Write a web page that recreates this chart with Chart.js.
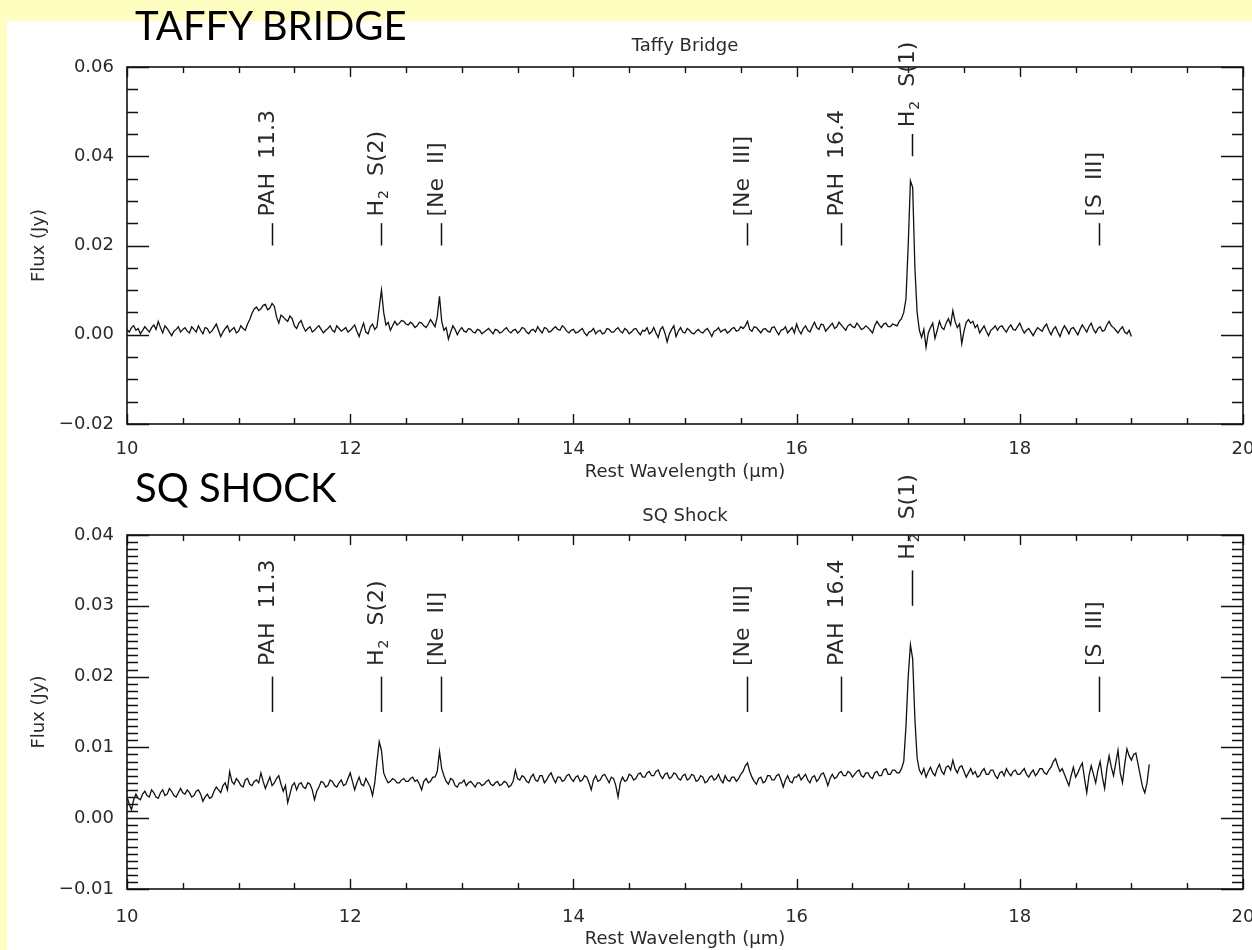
<!DOCTYPE html>
<html>
<head>
<meta charset="utf-8">
<title>Taffy Bridge / SQ Shock spectra</title>
<script src="https://cdn.jsdelivr.net/npm/chart.js@4.4.0/dist/chart.umd.min.js"></script>
<style>
  html, body { margin: 0; padding: 0; }
  body { width: 1252px; height: 950px; background: #fefec0; position: relative; overflow: hidden; }
  #panel { position: absolute; left: 7px; top: 21px; right: 0; bottom: 0; background: #fff; }
  canvas { position: absolute; left: 0; top: 0; }
  .tag { position: absolute; left: 135px; font-family: Lato, sans-serif; font-size: 40px; line-height: 40px; color: #000; white-space: nowrap; }
</style>
</head>
<body>
<div id="panel"></div>
<canvas id="taffyChart" width="1252" height="950"></canvas>
<canvas id="sqChart" width="1252" height="950"></canvas>
<div class="tag" style="top:5px">TAFFY BRIDGE</div>
<div class="tag" style="top:467px">SQ SHOCK</div>

<script>
// wavelength samples (µm), shared by both spectra
const wavelengths = [
  10.00, 10.02, 10.04, 10.06, 10.08, 10.10, 10.12, 10.14, 10.16, 10.18, 10.20, 10.22, 10.24, 10.26, 10.28, 10.30, 10.32, 10.34, 10.36, 10.38, 10.40, 10.42, 10.44, 10.46, 10.48, 10.50, 10.52, 10.54, 10.56, 10.58, 10.60, 10.62, 10.64, 10.66, 10.68, 10.70, 10.72, 10.74, 10.76, 10.78, 10.80, 10.82, 10.84, 10.86, 10.88, 10.90, 10.92, 10.94, 10.96, 10.98,
  11.00, 11.02, 11.04, 11.06, 11.08, 11.10, 11.12, 11.14, 11.16, 11.18, 11.20, 11.22, 11.24, 11.26, 11.28, 11.30, 11.32, 11.34, 11.36, 11.38, 11.40, 11.42, 11.44, 11.46, 11.48, 11.50, 11.52, 11.54, 11.56, 11.58, 11.60, 11.62, 11.64, 11.66, 11.68, 11.70, 11.72, 11.74, 11.76, 11.78, 11.80, 11.82, 11.84, 11.86, 11.88, 11.90, 11.92, 11.94, 11.96, 11.98,
  12.00, 12.02, 12.04, 12.06, 12.08, 12.10, 12.12, 12.14, 12.16, 12.18, 12.20, 12.22, 12.24, 12.26, 12.28, 12.30, 12.32, 12.34, 12.36, 12.38, 12.40, 12.42, 12.44, 12.46, 12.48, 12.50, 12.52, 12.54, 12.56, 12.58, 12.60, 12.62, 12.64, 12.66, 12.68, 12.70, 12.72, 12.74, 12.76, 12.78, 12.80, 12.82, 12.84, 12.86, 12.88, 12.90, 12.92, 12.94, 12.96, 12.98,
  13.00, 13.02, 13.04, 13.06, 13.08, 13.10, 13.12, 13.14, 13.16, 13.18, 13.20, 13.22, 13.24, 13.26, 13.28, 13.30, 13.32, 13.34, 13.36, 13.38, 13.40, 13.42, 13.44, 13.46, 13.48, 13.50, 13.52, 13.54, 13.56, 13.58, 13.60, 13.62, 13.64, 13.66, 13.68, 13.70, 13.72, 13.74, 13.76, 13.78, 13.80, 13.82, 13.84, 13.86, 13.88, 13.90, 13.92, 13.94, 13.96, 13.98,
  14.00, 14.02, 14.04, 14.06, 14.08, 14.10, 14.12, 14.14, 14.16, 14.18, 14.20, 14.22, 14.24, 14.26, 14.28, 14.30, 14.32, 14.34, 14.36, 14.38, 14.40, 14.42, 14.44, 14.46, 14.48, 14.50, 14.52, 14.54, 14.56, 14.58, 14.60, 14.62, 14.64, 14.66, 14.68, 14.70, 14.72, 14.74, 14.76, 14.78, 14.80, 14.82, 14.84, 14.86, 14.88, 14.90, 14.92, 14.94, 14.96, 14.98,
  15.00, 15.02, 15.04, 15.06, 15.08, 15.10, 15.12, 15.14, 15.16, 15.18, 15.20, 15.22, 15.24, 15.26, 15.28, 15.30, 15.32, 15.34, 15.36, 15.38, 15.40, 15.42, 15.44, 15.46, 15.48, 15.50, 15.52, 15.54, 15.56, 15.58, 15.60, 15.62, 15.64, 15.66, 15.68, 15.70, 15.72, 15.74, 15.76, 15.78, 15.80, 15.82, 15.84, 15.86, 15.88, 15.90, 15.92, 15.94, 15.96, 15.98,
  16.00, 16.02, 16.04, 16.06, 16.08, 16.10, 16.12, 16.14, 16.16, 16.18, 16.20, 16.22, 16.24, 16.26, 16.28, 16.30, 16.32, 16.34, 16.36, 16.38, 16.40, 16.42, 16.44, 16.46, 16.48, 16.50, 16.52, 16.54, 16.56, 16.58, 16.60, 16.62, 16.64, 16.66, 16.68, 16.70, 16.72, 16.74, 16.76, 16.78, 16.80, 16.82, 16.84, 16.86, 16.88, 16.90, 16.92, 16.94, 16.96, 16.98,
  17.00, 17.02, 17.04, 17.06, 17.08, 17.10, 17.12, 17.14, 17.16, 17.18, 17.20, 17.22, 17.24, 17.26, 17.28, 17.30, 17.32, 17.34, 17.36, 17.38, 17.40, 17.42, 17.44, 17.46, 17.48, 17.50, 17.52, 17.54, 17.56, 17.58, 17.60, 17.62, 17.64, 17.66, 17.68, 17.70, 17.72, 17.74, 17.76, 17.78, 17.80, 17.82, 17.84, 17.86, 17.88, 17.90, 17.92, 17.94, 17.96, 17.98,
  18.00, 18.02, 18.04, 18.06, 18.08, 18.10, 18.12, 18.14, 18.16, 18.18, 18.20, 18.22, 18.24, 18.26, 18.28, 18.30, 18.32, 18.34, 18.36, 18.38, 18.40, 18.42, 18.44, 18.46, 18.48, 18.50, 18.52, 18.54, 18.56, 18.58, 18.60, 18.62, 18.64, 18.66, 18.68, 18.70, 18.72, 18.74, 18.76, 18.78, 18.80, 18.82, 18.84, 18.86, 18.88, 18.90, 18.92, 18.94, 18.96, 18.98,
  19.00, 19.02, 19.04, 19.06, 19.08, 19.10, 19.12, 19.14, 19.16
];

// Taffy Bridge flux (Jy), 10.00 - 19.00 µm
const taffyFlux = [
  0.0012, 0.0006, 0.0016, 0.0020, 0.0010, 0.0014, 0.0002, 0.0010, 0.0018, 0.0012, 0.0006, 0.0016, 0.0022, 0.0012, 0.0030, 0.0016, 0.0004, 0.0020, 0.0014, 0.0006, -0.0002, 0.0008, 0.0012, 0.0018, 0.0006, 0.0012, 0.0016, 0.0008, 0.0004, 0.0018, 0.0012, 0.0006, 0.0020, 0.0010, 0.0002, 0.0016, 0.0014, 0.0004, 0.0008, 0.0016, 0.0024, 0.0010, -0.0004, 0.0006, 0.0014, 0.0020, 0.0006, 0.0012, 0.0016, 0.0004,
  0.0008, 0.0020, 0.0014, 0.0010, 0.0024, 0.0034, 0.0048, 0.0058, 0.0062, 0.0054, 0.0058, 0.0066, 0.0068, 0.0056, 0.0060, 0.0070, 0.0064, 0.0040, 0.0026, 0.0044, 0.0040, 0.0034, 0.0030, 0.0042, 0.0036, 0.0020, 0.0014, 0.0026, 0.0032, 0.0018, 0.0008, 0.0014, 0.0018, 0.0006, 0.0010, 0.0016, 0.0020, 0.0012, 0.0004, 0.0010, 0.0014, 0.0020, 0.0010, 0.0006, 0.0020, 0.0014, 0.0008, 0.0012, 0.0016, 0.0006,
  0.0010, 0.0016, 0.0022, 0.0008, -0.0004, 0.0012, 0.0026, 0.0006, 0.0002, 0.0018, 0.0024, 0.0012, 0.0018, 0.0060, 0.0100, 0.0050, 0.0022, 0.0028, 0.0010, 0.0020, 0.0030, 0.0022, 0.0026, 0.0032, 0.0030, 0.0024, 0.0022, 0.0028, 0.0024, 0.0016, 0.0020, 0.0028, 0.0026, 0.0020, 0.0016, 0.0024, 0.0034, 0.0026, 0.0018, 0.0040, 0.0086, 0.0030, 0.0010, 0.0016, -0.0010, 0.0006, 0.0020, 0.0012, 0.0000, 0.0010,
  0.0016, 0.0008, 0.0006, 0.0014, 0.0012, 0.0006, 0.0004, 0.0012, 0.0010, 0.0002, 0.0006, 0.0010, 0.0014, 0.0008, 0.0002, 0.0012, 0.0010, 0.0004, 0.0006, 0.0012, 0.0016, 0.0008, 0.0004, 0.0010, 0.0012, 0.0004, 0.0008, 0.0016, 0.0014, 0.0006, 0.0002, 0.0010, 0.0012, 0.0006, 0.0018, 0.0010, 0.0004, 0.0016, 0.0014, 0.0006, 0.0008, 0.0014, 0.0018, 0.0012, 0.0010, 0.0020, 0.0016, 0.0008, 0.0004, 0.0010,
  0.0012, 0.0004, 0.0006, 0.0010, 0.0014, 0.0004, -0.0002, 0.0006, 0.0008, 0.0014, 0.0002, 0.0008, 0.0010, 0.0002, 0.0004, 0.0014, 0.0012, 0.0006, 0.0006, 0.0012, 0.0016, 0.0008, 0.0004, 0.0014, 0.0010, 0.0002, 0.0006, 0.0012, 0.0014, 0.0006, 0.0000, 0.0010, 0.0008, 0.0016, 0.0002, 0.0006, 0.0016, 0.0004, -0.0006, 0.0012, 0.0018, 0.0004, -0.0016, 0.0002, 0.0012, 0.0020, -0.0004, 0.0008, 0.0016, 0.0006,
  0.0004, 0.0014, 0.0010, 0.0004, 0.0002, 0.0008, 0.0012, 0.0006, 0.0004, 0.0010, 0.0014, 0.0006, -0.0004, 0.0008, 0.0010, 0.0016, 0.0006, 0.0010, 0.0012, 0.0004, 0.0008, 0.0014, 0.0016, 0.0008, 0.0010, 0.0018, 0.0014, 0.0020, 0.0030, 0.0012, 0.0008, 0.0018, 0.0016, 0.0010, 0.0004, 0.0012, 0.0014, 0.0008, 0.0006, 0.0016, 0.0018, 0.0008, 0.0000, 0.0010, 0.0012, 0.0018, 0.0004, 0.0010, 0.0016, 0.0004,
  0.0024, 0.0010, 0.0002, 0.0014, 0.0020, 0.0010, 0.0006, 0.0018, 0.0028, 0.0016, 0.0012, 0.0024, 0.0022, 0.0008, 0.0014, 0.0020, 0.0026, 0.0014, 0.0018, 0.0028, 0.0022, 0.0016, 0.0010, 0.0020, 0.0024, 0.0018, 0.0016, 0.0026, 0.0020, 0.0012, 0.0014, 0.0020, 0.0016, 0.0010, 0.0004, 0.0020, 0.0030, 0.0022, 0.0016, 0.0024, 0.0026, 0.0018, 0.0018, 0.0024, 0.0022, 0.0020, 0.0030, 0.0036, 0.0050, 0.0080,
  0.0200, 0.0345, 0.0330, 0.0150, 0.0050, 0.0010, -0.0006, 0.0012, -0.0028, 0.0004, 0.0016, 0.0026, -0.0008, 0.0010, 0.0030, 0.0016, 0.0012, 0.0026, 0.0036, 0.0022, 0.0054, 0.0030, 0.0016, 0.0024, -0.0020, 0.0008, 0.0028, 0.0034, 0.0026, 0.0030, 0.0016, 0.0022, 0.0004, 0.0012, 0.0020, 0.0008, -0.0002, 0.0010, 0.0014, 0.0020, 0.0010, 0.0018, 0.0020, 0.0012, 0.0006, 0.0016, 0.0022, 0.0012, 0.0010, 0.0018,
  0.0026, 0.0014, 0.0004, 0.0010, 0.0014, 0.0006, -0.0002, 0.0008, 0.0016, 0.0012, 0.0008, 0.0018, 0.0024, 0.0010, 0.0000, 0.0012, 0.0018, 0.0006, -0.0004, 0.0010, 0.0020, 0.0012, 0.0002, 0.0014, 0.0016, 0.0008, 0.0000, 0.0012, 0.0022, 0.0014, 0.0006, 0.0018, 0.0026, 0.0012, 0.0004, 0.0014, 0.0018, 0.0008, 0.0010, 0.0022, 0.0030, 0.0020, 0.0016, 0.0010, 0.0004, 0.0012, 0.0018, 0.0006, 0.0002, 0.0010,
  -0.0004
];

// SQ Shock flux (Jy), 10.00 - 19.16 µm
const sqFlux = [
  0.0030, 0.0020, 0.0012, 0.0026, 0.0034, 0.0028, 0.0026, 0.0034, 0.0038, 0.0032, 0.0030, 0.0040, 0.0036, 0.0030, 0.0028, 0.0036, 0.0040, 0.0032, 0.0034, 0.0042, 0.0038, 0.0032, 0.0030, 0.0036, 0.0042, 0.0036, 0.0034, 0.0040, 0.0036, 0.0030, 0.0032, 0.0038, 0.0040, 0.0034, 0.0024, 0.0030, 0.0034, 0.0028, 0.0030, 0.0038, 0.0044, 0.0040, 0.0036, 0.0046, 0.0050, 0.0040, 0.0066, 0.0052, 0.0048, 0.0056,
  0.0052, 0.0046, 0.0044, 0.0054, 0.0056, 0.0048, 0.0046, 0.0052, 0.0054, 0.0050, 0.0064, 0.0052, 0.0042, 0.0050, 0.0058, 0.0046, 0.0050, 0.0056, 0.0060, 0.0048, 0.0038, 0.0046, 0.0022, 0.0034, 0.0046, 0.0050, 0.0040, 0.0048, 0.0050, 0.0044, 0.0042, 0.0050, 0.0048, 0.0040, 0.0026, 0.0038, 0.0044, 0.0052, 0.0050, 0.0044, 0.0046, 0.0054, 0.0052, 0.0046, 0.0044, 0.0050, 0.0054, 0.0046, 0.0048, 0.0056,
  0.0064, 0.0052, 0.0040, 0.0050, 0.0058, 0.0048, 0.0046, 0.0056, 0.0050, 0.0044, 0.0032, 0.0050, 0.0080, 0.0108, 0.0096, 0.0064, 0.0056, 0.0050, 0.0052, 0.0056, 0.0054, 0.0050, 0.0050, 0.0054, 0.0056, 0.0052, 0.0052, 0.0056, 0.0058, 0.0052, 0.0054, 0.0048, 0.0040, 0.0052, 0.0056, 0.0050, 0.0052, 0.0058, 0.0058, 0.0066, 0.0094, 0.0070, 0.0060, 0.0052, 0.0048, 0.0056, 0.0054, 0.0046, 0.0044, 0.0050,
  0.0050, 0.0054, 0.0046, 0.0050, 0.0052, 0.0048, 0.0044, 0.0050, 0.0050, 0.0046, 0.0048, 0.0052, 0.0054, 0.0048, 0.0046, 0.0050, 0.0052, 0.0046, 0.0048, 0.0052, 0.0050, 0.0044, 0.0046, 0.0052, 0.0068, 0.0056, 0.0054, 0.0060, 0.0058, 0.0052, 0.0050, 0.0058, 0.0062, 0.0054, 0.0052, 0.0060, 0.0060, 0.0050, 0.0054, 0.0060, 0.0064, 0.0056, 0.0050, 0.0058, 0.0058, 0.0052, 0.0054, 0.0060, 0.0062, 0.0056,
  0.0052, 0.0058, 0.0060, 0.0052, 0.0054, 0.0060, 0.0058, 0.0050, 0.0040, 0.0054, 0.0060, 0.0052, 0.0054, 0.0060, 0.0062, 0.0056, 0.0050, 0.0058, 0.0056, 0.0046, 0.0030, 0.0050, 0.0058, 0.0052, 0.0054, 0.0062, 0.0060, 0.0054, 0.0056, 0.0062, 0.0064, 0.0058, 0.0058, 0.0064, 0.0066, 0.0060, 0.0060, 0.0066, 0.0068, 0.0060, 0.0056, 0.0062, 0.0064, 0.0056, 0.0058, 0.0064, 0.0062, 0.0056, 0.0054, 0.0060,
  0.0062, 0.0054, 0.0056, 0.0062, 0.0060, 0.0052, 0.0054, 0.0060, 0.0058, 0.0050, 0.0052, 0.0058, 0.0060, 0.0054, 0.0056, 0.0062, 0.0054, 0.0050, 0.0060, 0.0054, 0.0052, 0.0058, 0.0058, 0.0052, 0.0056, 0.0062, 0.0066, 0.0074, 0.0078, 0.0066, 0.0058, 0.0052, 0.0048, 0.0056, 0.0058, 0.0050, 0.0052, 0.0060, 0.0060, 0.0054, 0.0054, 0.0060, 0.0062, 0.0054, 0.0044, 0.0054, 0.0060, 0.0052, 0.0050, 0.0058,
  0.0058, 0.0062, 0.0054, 0.0058, 0.0062, 0.0054, 0.0050, 0.0058, 0.0060, 0.0052, 0.0056, 0.0062, 0.0064, 0.0056, 0.0046, 0.0056, 0.0062, 0.0056, 0.0058, 0.0064, 0.0066, 0.0060, 0.0060, 0.0066, 0.0064, 0.0058, 0.0062, 0.0066, 0.0068, 0.0060, 0.0058, 0.0064, 0.0064, 0.0058, 0.0056, 0.0064, 0.0066, 0.0060, 0.0060, 0.0068, 0.0070, 0.0062, 0.0062, 0.0068, 0.0068, 0.0064, 0.0064, 0.0070, 0.0080, 0.0130,
  0.0200, 0.0245, 0.0225, 0.0140, 0.0085, 0.0068, 0.0062, 0.0070, 0.0058, 0.0066, 0.0072, 0.0064, 0.0060, 0.0070, 0.0076, 0.0066, 0.0062, 0.0072, 0.0074, 0.0068, 0.0082, 0.0070, 0.0064, 0.0072, 0.0074, 0.0066, 0.0058, 0.0064, 0.0070, 0.0062, 0.0066, 0.0058, 0.0060, 0.0066, 0.0070, 0.0062, 0.0062, 0.0068, 0.0068, 0.0060, 0.0056, 0.0064, 0.0066, 0.0060, 0.0070, 0.0064, 0.0060, 0.0066, 0.0068, 0.0062,
  0.0062, 0.0066, 0.0070, 0.0062, 0.0058, 0.0064, 0.0068, 0.0060, 0.0064, 0.0070, 0.0070, 0.0064, 0.0062, 0.0068, 0.0072, 0.0080, 0.0084, 0.0074, 0.0066, 0.0070, 0.0062, 0.0054, 0.0046, 0.0060, 0.0072, 0.0058, 0.0064, 0.0072, 0.0078, 0.0056, 0.0036, 0.0060, 0.0074, 0.0062, 0.0050, 0.0068, 0.0080, 0.0058, 0.0042, 0.0070, 0.0088, 0.0072, 0.0060, 0.0078, 0.0096, 0.0064, 0.0050, 0.0076, 0.0098, 0.0088,
  0.0082, 0.0090, 0.0092, 0.0076, 0.0060, 0.0044, 0.0036, 0.0050, 0.0076
];

// identified emission lines: label text and rest wavelength (µm)
const lineNames = ['PAH  11.3', 'H2  S(2)', '[Ne  II]', '[Ne  III]', 'PAH  16.4', 'H2  S(1)', '[S  III]'];
const lineWaves = [11.3, 12.28, 12.81, 15.56, 16.4, 17.03, 18.71];

// axis tick values
const xTickMajor = 2;
const taffyYMajor = 0.02;
const sqYMajor = 0.01;

const FONT = '"DejaVu Sans", sans-serif';
const INK = '#2a2a2a';

function isMultiple(v, m) {
    return Math.abs(v / m - Math.round(v / m)) < 1e-6;
}

function fluxLabel(v) {
    return (v < -1e-9 ? '\u2212' : '') + Math.abs(v).toFixed(2);
}

// line label rotated to read upwards, H2 gets a subscript
function drawLineLabel(ctx, name, x, y) {
    ctx.save();
    ctx.translate(x, y);
    ctx.rotate(-Math.PI / 2);
    ctx.textAlign = 'left';
    ctx.textBaseline = 'alphabetic';
    ctx.fillStyle = INK;
    ctx.font = '22px ' + FONT;
    if (name.startsWith('H2')) {
        ctx.fillText('H', 0, 0);
        let cx = ctx.measureText('H').width + 1;
        ctx.font = '14px ' + FONT;
        ctx.fillText('2', cx, 5);
        cx += ctx.measureText('2').width;
        ctx.font = '22px ' + FONT;
        ctx.fillText(name.slice(2), cx, 0);
    } else {
        ctx.fillText(name, 0, 0);
    }
    ctx.restore();
}

// IDL-like frame: closed box, inward ticks on all four sides, line markers
const idlFrame = {
    id: 'idlFrame',
    afterDatasetsDraw(chart, args, opts) {
        const { ctx, chartArea: a, scales: { x, y } } = chart;
        ctx.save();
        ctx.strokeStyle = '#111';
        ctx.lineWidth = 1.6;
        ctx.strokeRect(a.left, a.top, a.right - a.left, a.bottom - a.top);

        ctx.lineWidth = 1.4;
        ctx.beginPath();
        y.ticks.forEach(t => {
            const py = Math.round(y.getPixelForValue(t.value)) + 0.5;
            const len = isMultiple(t.value, opts.yMajor) ? 22 : 11;
            ctx.moveTo(a.left, py); ctx.lineTo(a.left + len, py);
            ctx.moveTo(a.right, py); ctx.lineTo(a.right - len, py);
        });
        x.ticks.forEach(t => {
            const px = Math.round(x.getPixelForValue(t.value)) + 0.5;
            const len = isMultiple(t.value, xTickMajor) ? 10 : 6;
            ctx.moveTo(px, a.bottom); ctx.lineTo(px, a.bottom - len);
            ctx.moveTo(px, a.top); ctx.lineTo(px, a.top + len);
        });
        ctx.stroke();

        // line identification markers
        ctx.lineWidth = 1.5;
        lineNames.forEach((name, i) => {
            const lift = name === opts.raisedLine ? opts.raise : 0;
            const px = Math.round(x.getPixelForValue(lineWaves[i])) + 0.5;
            ctx.beginPath();
            ctx.moveTo(px, y.getPixelForValue(opts.markLow + lift));
            ctx.lineTo(px, y.getPixelForValue(opts.markHigh + lift));
            ctx.stroke();
            drawLineLabel(ctx, name, px + 1, y.getPixelForValue(opts.textFrom + lift));
        });
        ctx.restore();
    }
};

function spectrum(flux) {
    return flux.map((f, i) => ({ x: wavelengths[i], y: f }));
}

function buildChart(canvasId, cfg) {
    return new Chart(document.getElementById(canvasId), {
        type: 'line',
        data: {
            datasets: [{
                data: spectrum(cfg.flux),
                borderColor: '#111',
                borderWidth: 1.3,
                pointRadius: 0,
                tension: 0
            }]
        },
        options: {
            responsive: false,
            animation: false,
            events: [],
            layout: { padding: { left: 0, right: 9, top: 0, bottom: cfg.padBottom } },
            plugins: {
                legend: { display: false },
                tooltip: { enabled: false },
                title: {
                    display: true,
                    fullSize: false,   // centre over the plot box, not the page
                    text: cfg.title,
                    color: INK,
                    font: { family: FONT, size: 18, weight: 'normal' },
                    padding: cfg.titlePad
                },
                idlFrame: cfg.marks
            },
            scales: {
                x: {
                    type: 'linear',
                    min: 10,
                    max: 20,
                    grid: { display: false },
                    border: { display: false },
                    ticks: {
                        stepSize: 0.5,
                        autoSkip: false,
                        maxRotation: 0,
                        padding: cfg.xLabelPad,
                        color: INK,
                        font: { family: FONT, size: 18 },
                        callback: v => isMultiple(v, xTickMajor) ? String(Math.round(v)) : ''
                    },
                    title: {
                        display: true,
                        text: 'Rest Wavelength (\u03bcm)',
                        color: INK,
                        font: { family: FONT, size: 18 },
                        padding: { top: 0, bottom: cfg.xTitlePad }
                    },
                    afterFit: s => {
                        s.height = cfg.xHeight;
                        // let the "20" run off the page edge like the original
                        s.paddingLeft = 0;
                        s.paddingRight = 0;
                    }
                },
                y: {
                    min: cfg.yMin,
                    max: cfg.yMax,
                    grid: { display: false },
                    border: { display: false },
                    ticks: {
                        stepSize: cfg.yStep,
                        autoSkip: false,
                        padding: 5,
                        color: INK,
                        font: { family: FONT, size: 18 },
                        callback: v => isMultiple(v, cfg.yMajor) ? fluxLabel(v) : ''
                    },
                    title: {
                        display: true,
                        text: 'Flux (Jy)',
                        color: INK,
                        font: { family: FONT, size: 18 },
                        padding: { top: 29, bottom: 0 }
                    },
                    afterFit: s => { s.width = 127; }
                }
            }
        },
        plugins: [idlFrame]
    });
}

buildChart('taffyChart', {
    flux: taffyFlux,
    title: 'Taffy Bridge',
    titlePad: { top: 36, bottom: 9.4 },
    padBottom: 466,
    xHeight: 60,
    xLabelPad: 7,
    xTitlePad: 1,
    yMin: -0.02, yMax: 0.06, yStep: 0.005, yMajor: taffyYMajor,
    marks: { yMajor: taffyYMajor, markLow: 0.020, markHigh: 0.025, textFrom: 0.0265, raisedLine: 'H2  S(1)', raise: 0.020 }
});

buildChart('sqChart', {
    flux: sqFlux,
    title: 'SQ Shock',
    titlePad: { top: 506, bottom: 7.4 },
    padBottom: 0,
    xHeight: 61,
    xLabelPad: 10,
    xTitlePad: 0,
    yMin: -0.01, yMax: 0.04, yStep: 0.001, yMajor: sqYMajor,
    marks: { yMajor: sqYMajor, markLow: 0.015, markHigh: 0.020, textFrom: 0.0215, raisedLine: 'H2  S(1)', raise: 0.015 }
});
</script>
</body>
</html>
